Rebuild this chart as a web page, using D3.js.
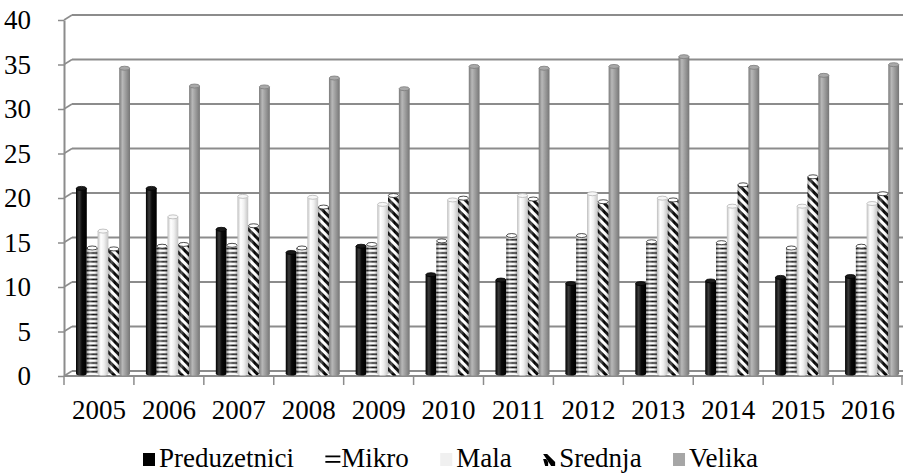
<!DOCTYPE html>
<html>
<head>
<meta charset="utf-8">
<script src="https://cdn.jsdelivr.net/npm/d3@7/dist/d3.min.js"></script>
<style>
  body { margin: 0; background: #fff; }
</style>
</head>
<body>
<div id="chart"></div>
<script>
// data
var years = ["2005","2006","2007","2008","2009","2010","2011","2012","2013","2014","2015","2016"];
var seriesNames = ["Preduzetnici","Mikro","Mala","Srednja","Velika"];
var preduzetnici = [20.8,20.8,16.2,13.6,14.3,11.1,10.5,10.1,10.1,10.4,10.8,10.9];
var mikro        = [14.1,14.3,14.4,14.1,14.5,14.9,15.5,15.5,14.8,14.7,14.1,14.3];
var mala         = [16.0,17.6,19.9,19.8,19.0,19.5,20.0,20.2,19.7,18.8,18.8,19.1];
var srednja      = [14.0,14.5,16.6,18.7,20.0,19.7,19.6,19.3,19.5,21.2,22.1,20.2];
var velika       = [34.3,32.3,32.2,33.2,32.0,34.5,34.3,34.5,35.6,34.4,33.5,34.7];
var yTicks = [0,5,10,15,20,25,30,35,40];

var allSeries = [preduzetnici, mikro, mala, srednja, velika];
var FONT = "'Liberation Serif', 'Times New Roman', 'DejaVu Serif', serif";

var W = 903, H = 473;
var svg = d3.select("#chart").append("svg").attr("width", W).attr("height", H);
var defs = svg.append("defs");

// 3d wall offset
var depthX = 8, depthY = -5;

var x0 = d3.scaleBand().domain(years).range([64, 903]);
var x1 = d3.scaleBand().domain(seriesNames).range([12, 66]);
var y = d3.scaleLinear().domain([0, 40]).range([376, 20]);
var yMid = function(v) { return y(v) + depthY / 2; };

// cylinder shading gradients
function shade(id, stops) {
  var g = defs.append("linearGradient").attr("id", id)
    .attr("x1", "0").attr("x2", "1").attr("y1", "0").attr("y2", "0");
  stops.forEach(function(s) {
    g.append("stop").attr("offset", s[0]).attr("stop-color", s[1]).attr("stop-opacity", s[2] == null ? 1 : s[2]);
  });
}
shade("gBlack", [[0,"#000"],[0.3,"#3c3c3c"],[0.55,"#0a0a0a"],[1,"#000"]]);
shade("gMala", [[0,"#bdbdbd"],[0.3,"#ffffff"],[0.6,"#f0f0f0"],[1,"#c4c4c4"]]);
shade("gVelika", [[0,"#7a7a7a"],[0.3,"#b8b8b8"],[0.6,"#9c9c9c"],[1,"#767676"]]);
shade("gOver", [[0,"#000",0.35],[0.3,"#fff",0.3],[0.6,"#fff",0],[1,"#000",0.35]]);

// stripe patterns
var pRing = defs.append("pattern").attr("id", "pMikro")
  .attr("patternUnits", "userSpaceOnUse").attr("width", 12).attr("height", 4.4);
pRing.append("rect").attr("width", 12).attr("height", 4.4).attr("fill", "#fff");
pRing.append("rect").attr("y", 1.4).attr("width", 12).attr("height", 1.6).attr("fill", "#000");

var pDiag = defs.append("pattern").attr("id", "pSrednja")
  .attr("patternUnits", "userSpaceOnUse").attr("width", 6).attr("height", 6)
  .attr("patternTransform", "rotate(-45)");
pDiag.append("rect").attr("width", 6).attr("height", 6).attr("fill", "#fff");
pDiag.append("rect").attr("width", 3).attr("height", 6).attr("fill", "#000");

var fills = ["url(#gBlack)", "url(#pMikro)", "url(#gMala)", "url(#pSrednja)", "url(#gVelika)"];
var overlay = [false, true, false, true, false];
var topFill = ["#1a1a1a", "#fff", "#f7f7f7", "#fff", "#a9a9a9"];
var topStroke = ["#000", "#222", "#b5b5b5", "#222", "#7c7c7c"];

var gridColor = "#8c8c8c";

// gridlines on back wall plus left-wall diagonals
var grid = svg.append("g");
yTicks.forEach(function(t) {
  grid.append("line")
    .attr("x1", 64 + depthX).attr("x2", W)
    .attr("y1", y(t) + depthY).attr("y2", y(t) + depthY)
    .attr("stroke", gridColor).attr("stroke-width", 2);
  grid.append("line")
    .attr("x1", 64).attr("x2", 64 + depthX)
    .attr("y1", y(t)).attr("y2", y(t) + depthY)
    .attr("stroke", gridColor).attr("stroke-width", 1.5);
});
// floor front edge
grid.append("line").attr("x1", 64).attr("x2", W).attr("y1", y(0)).attr("y2", y(0))
  .attr("stroke", gridColor).attr("stroke-width", 2);

// bars
var bars = svg.append("g");
years.forEach(function(yr, i) {
  seriesNames.forEach(function(s, k) {
    var v = allSeries[k][i];
    var bx = x0(yr) + x1(s), bw = x1.bandwidth();
    var top = yMid(v), base = yMid(0);
    var g = bars.append("g");
    g.append("ellipse").attr("cx", bx + bw / 2).attr("cy", base).attr("rx", bw / 2).attr("ry", 2)
      .attr("fill", fills[k]);
    g.append("rect").attr("x", bx).attr("y", top).attr("width", bw).attr("height", base - top)
      .attr("fill", fills[k]);
    if (overlay[k]) {
      g.append("rect").attr("x", bx).attr("y", top).attr("width", bw).attr("height", base - top)
        .attr("fill", "url(#gOver)");
    }
    g.append("ellipse").attr("cx", bx + bw / 2).attr("cy", top).attr("rx", bw / 2 - 0.3).attr("ry", 2)
      .attr("fill", topFill[k]).attr("stroke", topStroke[k]).attr("stroke-width", 0.8);
  });
});

// y axis
var yAxis = svg.append("g").attr("transform", "translate(64,0)")
  .call(d3.axisLeft(y).tickValues(yTicks).tickSize(6).tickPadding(27).tickSizeOuter(0));
yAxis.attr("font-family", FONT);
yAxis.select(".domain").attr("stroke", gridColor).attr("stroke-width", 2);
yAxis.selectAll(".tick line").attr("stroke", gridColor).attr("stroke-width", 1.5);
yAxis.selectAll(".tick text").attr("font-size", 27).attr("font-family", FONT)
  .attr("fill", "#000").attr("dy", "0.33em");

// x axis: tick marks at category borders
var xAxis = svg.append("g");
years.concat(["end"]).forEach(function(yr, i) {
  var xx = i < years.length ? x0(yr) : W - 1;
  xAxis.append("line").attr("x1", xx).attr("x2", xx).attr("y1", y(0)).attr("y2", y(0) + 9)
    .attr("stroke", gridColor).attr("stroke-width", 1.5);
});
xAxis.selectAll("text.yr").data(years).enter().append("text").attr("class", "yr")
  .attr("x", function(d) { return x0(d) + x0.bandwidth() / 2; })
  .attr("y", 419).attr("text-anchor", "middle").attr("font-size", 27).attr("font-family", FONT)
  .text(function(d) { return d; });

// legend, spread from x=143 to x=758
var legend = svg.append("g").attr("transform", "translate(143,458)");
var groups = [], widths = [];
seriesNames.forEach(function(s, k) {
  var g = legend.append("g");
  if (k === 0) g.append("rect").attr("x", 0).attr("y", -5).attr("width", 12).attr("height", 13).attr("fill", "#000");
  if (k === 1) {
    g.append("rect").attr("x", 0).attr("y", -2.5).attr("width", 15).attr("height", 1.8).attr("fill", "#000");
    g.append("rect").attr("x", 0).attr("y", 3).attr("width", 15).attr("height", 1.8).attr("fill", "#000");
  }
  if (k === 2) g.append("rect").attr("x", 0).attr("y", -5).attr("width", 12).attr("height", 13).attr("fill", "#f0f0f0");
  if (k === 3) {
    g.append("path").attr("d", "M0,-4 L4,-4 L12,4 L12,8 L8,8 Z M0,1 L3,1 L5,4 L5,8 L2,8 Z").attr("fill", "#000");
  }
  if (k === 4) g.append("rect").attr("x", 0).attr("y", -5).attr("width", 12).attr("height", 13).attr("fill", "#a6a6a6");
  var t = g.append("text").attr("x", 16).attr("y", 9).attr("font-size", 27).attr("font-family", FONT).text(s);
  groups.push(g);
  widths.push(16 + t.node().getComputedTextLength());
});
var gap = (615 - d3.sum(widths)) / (widths.length - 1);
var lx = 0;
groups.forEach(function(g, k) {
  g.attr("transform", "translate(" + lx + ",0)");
  lx += widths[k] + gap;
});
</script>
</body>
</html>
